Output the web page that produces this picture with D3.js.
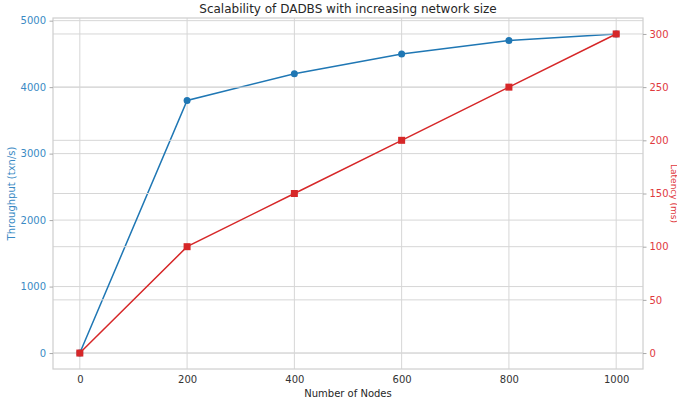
<!DOCTYPE html>
<html><head><meta charset="utf-8">
<script src="https://cdn.jsdelivr.net/npm/d3@7"></script>
<style>body{margin:0;background:#fff}svg{display:block;font-family:"DejaVu Sans",sans-serif}</style>
</head><body>
<svg id="c" width="677" height="405"></svg>
<script>
const nodes = [0, 200, 400, 600, 800, 1000];
const throughput = [0, 3800, 4200, 4500, 4700, 4800];
const latency = [0, 100, 150, 200, 250, 300];
const xTicks = [0, 200, 400, 600, 800, 1000];
const yLeftTicks = [0, 1000, 2000, 3000, 4000, 5000];
const yRightTicks = [0, 50, 100, 150, 200, 250, 300];

const blue = "#1f77b4", red = "#d62728";
const lblBlue = "#3a8ac4", lblRed = "#e0393e";
const L = 53, R = 643, T = 18, B = 369;
const svg = d3.select("#c");
const x = d3.scaleLinear().domain([-50, 1050]).range([L, R]);
const yl = d3.scaleLinear().domain([-240, 5040]).range([B, T]);
const yr = d3.scaleLinear().domain([-15, 315]).range([B, T]);
const grid = "#d6d6d6";

// grids ax1
svg.append("g").selectAll("line").data(xTicks).join("line")
  .attr("x1", d => x(d)).attr("x2", d => x(d)).attr("y1", T).attr("y2", B)
  .attr("stroke", grid).attr("stroke-width", 1);
svg.append("g").selectAll("line").data(yLeftTicks).join("line")
  .attr("x1", L).attr("x2", R).attr("y1", d => yl(d)).attr("y2", d => yl(d))
  .attr("stroke", grid).attr("stroke-width", 1);

// blue line
svg.append("path").datum(nodes.map((n, i) => [n, throughput[i]]))
  .attr("d", d3.line().x(d => x(d[0])).y(d => yl(d[1])))
  .attr("fill", "none").attr("stroke", blue).attr("stroke-width", 1.5);
svg.append("g").selectAll("circle").data(nodes.map((n, i) => [n, throughput[i]])).join("circle")
  .attr("cx", d => x(d[0])).attr("cy", d => yl(d[1])).attr("r", 3.5).attr("fill", blue);

// grids ax2
svg.append("g").selectAll("line").data(yRightTicks).join("line")
  .attr("x1", L).attr("x2", R).attr("y1", d => yr(d)).attr("y2", d => yr(d))
  .attr("stroke", grid).attr("stroke-width", 1);

// red line
svg.append("path").datum(nodes.map((n, i) => [n, latency[i]]))
  .attr("d", d3.line().x(d => x(d[0])).y(d => yr(d[1])))
  .attr("fill", "none").attr("stroke", red).attr("stroke-width", 1.5);
svg.append("g").selectAll("rect").data(nodes.map((n, i) => [n, latency[i]])).join("rect")
  .attr("x", d => x(d[0]) - 3.5).attr("y", d => yr(d[1]) - 3.5).attr("width", 7).attr("height", 7).attr("fill", red);

// spines
svg.append("rect").attr("x", L).attr("y", T).attr("width", R - L).attr("height", B - T)
  .attr("fill", "none").attr("stroke", "#d0d0d0").attr("stroke-width", 1.25);

// axes
function style(g, color) {
  g.select(".domain").remove();
  g.selectAll(".tick line").attr("stroke", "#aaaaaa");
  g.selectAll(".tick text").attr("fill", color).style("font-size", "10px").style("font-family", "DejaVu Sans");
}
svg.append("g").attr("transform", `translate(0,${B})`)
  .call(d3.axisBottom(x).tickValues(xTicks).tickSize(0).tickPadding(7).tickFormat(d3.format("d")))
  .call(g => style(g, "#333"));
svg.append("g").attr("transform", `translate(${L},0)`)
  .call(d3.axisLeft(yl).tickValues(yLeftTicks).tickSize(3.5).tickPadding(3.5).tickFormat(d3.format("d")))
  .call(g => style(g, lblBlue));
svg.append("g").attr("transform", `translate(${R},0)`)
  .call(d3.axisRight(yr).tickValues(yRightTicks).tickSize(3.5).tickPadding(3).tickFormat(d3.format("d")))
  .call(g => style(g, lblRed));

// labels
svg.append("text").attr("x", (L + R) / 2).attr("y", 13).attr("text-anchor", "middle")
  .style("font-size", "12px").attr("fill", "#262626").text("Scalability of DADBS with increasing network size");
svg.append("text").attr("x", (L + R) / 2).attr("y", 397).attr("text-anchor", "middle")
  .style("font-size", "10px").attr("fill", "#262626").text("Number of Nodes");
svg.append("text").attr("transform", `translate(15,${(T + B) / 2}) rotate(-90)`).attr("text-anchor", "middle")
  .style("font-size", "10px").attr("fill", lblBlue).text("Throughput (txn/s)");
svg.append("text").attr("transform", `translate(670.5,${(T + B) / 2}) rotate(90)`).attr("text-anchor", "middle")
  .style("font-size", "9px").attr("fill", lblRed).text("Latency (ms)");
</script>
</body></html>
